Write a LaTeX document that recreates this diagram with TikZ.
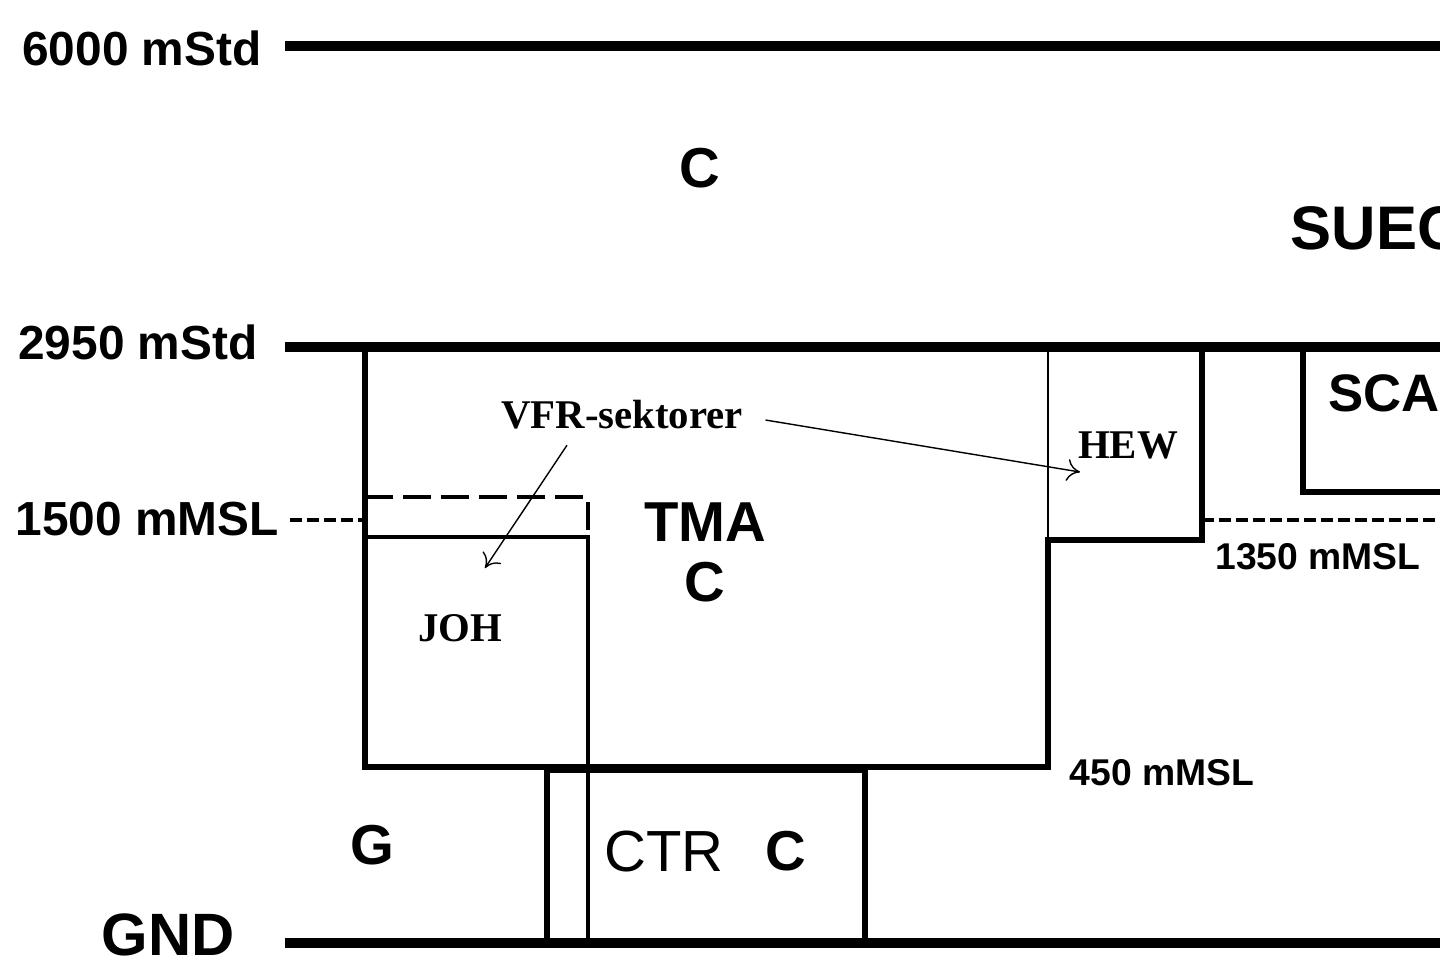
\documentclass[tikz,border=0pt]{standalone}
\usepackage{fontspec}
\setmainfont{Liberation Serif}
\setsansfont{Liberation Sans}
\usetikzlibrary{positioning,arrows.meta}

\tikzset{
  level/.style={black, line width=2.8pt},
  wall/.style={black, line width=1.5pt},
  fine/.style={black, line width=0.6pt},
  levelcut/.style={black, line width=1.1pt, dash pattern=on 1.2mm off 0.5mm},
  sectorcut/.style={black, line width=0.9pt, dash pattern=on 2.8mm off 1mm},
  pointer/.style={black, line width=0.4pt, -{To[length=1.3mm,width=2.2mm]}},
  altbig/.style={font=\sffamily\bfseries\fontsize{13.6}{15}\selectfont},
  altsmall/.style={font=\sffamily\bfseries\fontsize{10.6}{12}\selectfont},
  class/.style={font=\sffamily\bfseries\fontsize{16}{18}\selectfont},
  sector/.style={font=\rmfamily\bfseries\fontsize{11.6}{13}\selectfont},
}

\begin{document}
\begin{tikzpicture}[x=0.01cm, y=-0.01cm]
        \tikzstyle{every node}+=[inner sep=0pt]
        \clip (0,0) rectangle (1440,959);
        \fill [white] (0,0) rectangle (1440,959);
        % levels
        \draw [level] (285,46) -- (1440,46);
        \draw [level] (285,347) -- (1440,347);
        \draw [level] (285,943) -- (1440,943);
        \draw [levelcut] (290,520) -- (365,520);
        \draw [levelcut] (1202,520) -- (1440,520);
        % TMA and HEW
        \draw [wall] (365,347) -- (365,767) -- (1048,767) -- (1048,540) -- (1202,540) -- (1202,347);
        \draw [fine] (1048,347) -- (1048,540);
        % SCA
        \draw [wall] (1303,347) -- (1303,492) -- (1440,492);
        % CTR
        \draw [wall] (547,943) -- (547,770) -- (865,770) -- (865,943);
        % JOH
        \draw [black, line width=0.9pt] (365,537) -- (588,537) -- (588,943);
        \draw [sectorcut] (365,497) -- (588,497) -- (588,535);
        % labels
        \node [altbig] (l6000) at (142,48) {6000 mStd};
        \node [altbig] (l2950) at (138,342) {2950 mStd};
        \node [altbig] (l1500) at (147,519) {1500 mMSL};
        \node [altsmall] (l1350) at (1318,557) {1350 mMSL};
        \node [altsmall] (l450) at (1162,773) {450 mMSL};
        \node [class, font=\sffamily\bfseries\fontsize{17}{19}\selectfont] (gnd) at (168,935) {GND};
        \node [class] (cupper) at (700,168) {C};
        \node [class, font=\sffamily\bfseries\fontsize{17.5}{19}\selectfont, anchor=west] (suec) at (1290,228) {SUEC};
        \node [class, font=\sffamily\bfseries\fontsize{15}{17}\selectfont, anchor=west] (sca) at (1328,393) {SCA};
        \node [class] (tma) at (705,522) {TMA};
        \node [class] (tmac) at (705,582) {C};
        \node [class] (g) at (372,845) {G};
        \node [class, font=\sffamily\fontsize{16.5}{18}\selectfont] (ctr) at (664,851) {CTR};
        \node [class] (ctrc) at (786,851) {C};
        \node [sector] (vfr) at (622,415) {VFR-sektorer};
        \node [sector] (hew) at (1128,445) {HEW};
        \node [sector] (joh) at (460,628) {JOH};
        % pointers
        \coordinate (johtip) at (485,568);
        \coordinate (hewtip) at (1080,472);
        \draw [pointer] ([shift={(-55,15)}]vfr.south) -- (johtip);
        \draw [pointer] ([shift={(22,5)}]vfr.east) -- (hewtip);
\end{tikzpicture}
\end{document}
